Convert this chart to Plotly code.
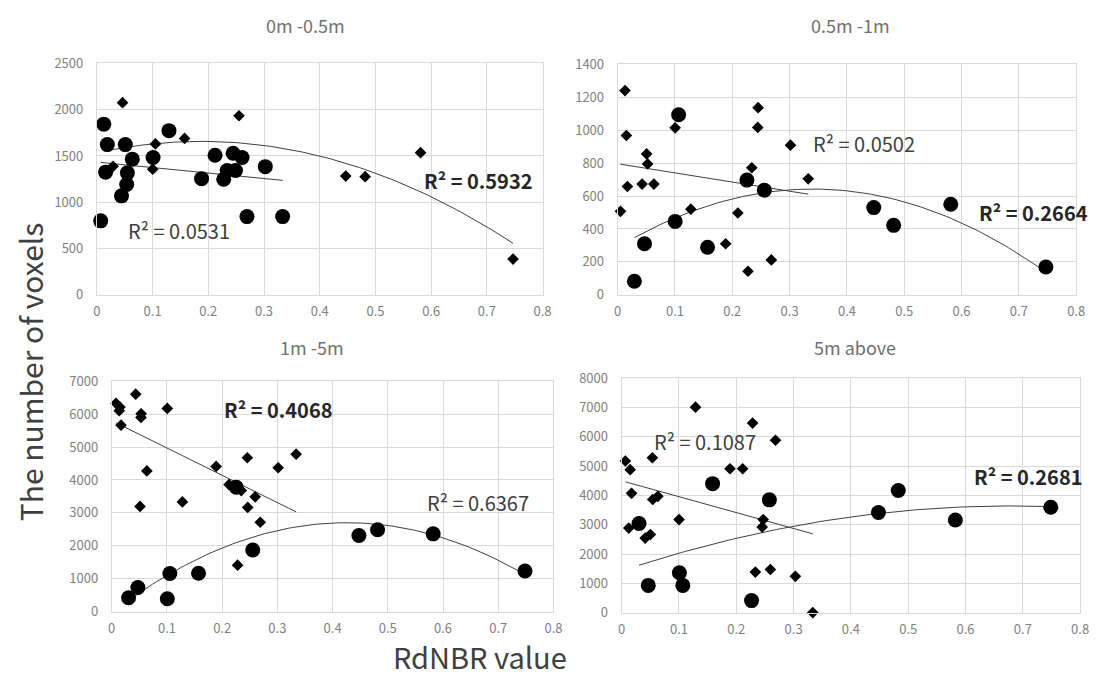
import numpy as np
import plotly.graph_objects as go

# ---------------- data ----------------
# Panel 1: 0m -0.5m
p1_circ_x = [0.0124, 0.0187, 0.0156, 0.0068, 0.051, 0.0635, 0.0547, 0.0535, 0.0442, 0.1008, 0.1294,
             0.1879, 0.2121, 0.2445, 0.2606, 0.2339, 0.2488, 0.2277, 0.2694, 0.3023, 0.3334]
p1_circ_y = [1844, 1623, 1325, 799, 1623, 1466, 1318, 1192, 1069, 1483, 1774,
             1255, 1508, 1529, 1483, 1343, 1343, 1248, 845, 1385, 845]
p1_dia_x = [0.029, 0.046, 0.1002, 0.1051, 0.1574, 0.2255, 0.2551, 0.4467, 0.4815, 0.581, 0.747]
p1_dia_y = [1388, 2076, 1357, 1630, 1690, 1260, 1935, 1283, 1276, 1536, 386]

# Panel 2: 0.5m -1m
p2_circ_x = [0.0292, 0.0468, 0.1003, 0.1064, 0.1568, 0.2255, 0.2559, 0.4468, 0.4815, 0.5812, 0.7471]
p2_circ_y = [82, 310, 446, 1094, 289, 697, 636, 530, 422, 550, 169]
p2_dia_x = [0.0128, 0.0152, 0.017, 0.0049, 0.0426, 0.0505, 0.0523, 0.0632, 0.1003, 0.1277,
            0.1884, 0.2097, 0.2274, 0.234, 0.245, 0.2444, 0.2681, 0.3015, 0.3325]
p2_dia_y = [1241, 968, 658, 507, 673, 856, 795, 673, 1015, 520,
            310, 497, 143, 772, 1137, 1017, 212, 909, 705]

# Panel 3: 1m -5m
p3_circ_x = [0.0305, 0.0474, 0.1007, 0.1053, 0.1572, 0.2255, 0.2554, 0.4477, 0.4815, 0.5822, 0.7485]
p3_circ_y = [422, 735, 392, 1157, 1167, 3780, 1873, 2314, 2490, 2363, 1235]
p3_dia_x = [0.0078, 0.0149, 0.0136, 0.0169, 0.0435, 0.0533, 0.0513, 0.053, 0.0637, 0.1007, 0.128,
            0.1891, 0.2125, 0.2346, 0.2456, 0.2463, 0.2599, 0.269, 0.3015, 0.334, 0.228]
p3_dia_y = [6333, 6216, 6108, 5667, 6608, 6010, 3196, 5902, 4275, 6176, 3333,
            4412, 3860, 3680, 4676, 3167, 3490, 2716, 4373, 4784, 1412]

# Panel 4: 5m above
p4_circ_x = [0.0304, 0.0465, 0.1008, 0.1068, 0.1587, 0.2267, 0.2578, 0.4481, 0.4827, 0.5823, 0.7488]
p4_circ_y = [3043, 929, 1361, 929, 4404, 409, 3851, 3419, 4172, 3165, 3596]
p4_dia_x = [0.0066, 0.0149, 0.0173, 0.0125, 0.0412, 0.0501, 0.0537, 0.0543, 0.0632, 0.1002, 0.1289,
            0.1891, 0.2112, 0.2285, 0.2333, 0.247, 0.2452, 0.2595, 0.2685, 0.3031, 0.3335]
p4_dia_y = [5178, 4880, 4072, 2888, 2545, 2667, 5289, 3862, 3972, 3176, 7015,
            4913, 4913, 6473, 1383, 3176, 2921, 1472, 5887, 1239, 0]

titles = ["0m -0.5m", "0.5m -1m", "1m -5m", "5m above"]
y_max = [2500, 1400, 7000, 8000]
y_step = [500, 200, 1000, 1000]
r2_normal = ["R² = 0.0531", "R² = 0.0502", "R² = 0.6367", "R² = 0.1087"]
r2_bold = ["R² = 0.5932", "R² = 0.2664", "R² = 0.4068", "R² = 0.2681"]

# ---------------- layout geometry ----------------
W, H = 1101, 677
boxes = [(94, 545, 55, 293), (621, 1085, 56, 293), (109, 556, 382, 619), (625, 1089, 379, 620)]
title_pos = [(305, 15), (857, 15), (312, 347), (861, 347)]
# label positions (data coords): normal label, bold label
normal_pos = [(0.147, 690), (0.429, 919), (0.6625, 3324), (0.1454, 5842)]
bold_pos = [(0.685, 1240), (0.726, 497), (0.3015, 6137), (0.7097, 4658)]

panels = [
    (p1_circ_x, p1_circ_y, p1_dia_x, p1_dia_y, "circ_lin"),
    (p2_circ_x, p2_circ_y, p2_dia_x, p2_dia_y, "dia_lin"),
    (p3_circ_x, p3_circ_y, p3_dia_x, p3_dia_y, "dia_lin"),
    (p4_circ_x, p4_circ_y, p4_dia_x, p4_dia_y, "dia_lin"),
]

FONT = "Noto Sans CJK JP"
GRAY = "#7f7f7f"
GRID = "#d9d9d9"

fig = go.Figure()
annotations = []
layout_axes = {}

for i, (cx, cy, dx, dy, mode) in enumerate(panels):
    n = "" if i == 0 else str(i + 1)
    xa, ya = "x" + n, "y" + n
    x0, x1, y0, y1 = boxes[i]

    if mode == "circ_lin":
        lin_x, lin_y, pol_x, pol_y = cx, cy, dx, dy
    else:
        lin_x, lin_y, pol_x, pol_y = dx, dy, cx, cy
    # linear trendline
    c1 = np.polyfit(lin_x, lin_y, 1)
    tx = np.linspace(min(lin_x), max(lin_x), 50)
    fig.add_trace(go.Scatter(x=tx, y=np.polyval(c1, tx), mode="lines", xaxis=xa, yaxis=ya,
                             line=dict(color="#404040", width=1), showlegend=False, hoverinfo="skip"))
    # polynomial (order 2) trendline
    c2 = np.polyfit(pol_x, pol_y, 2)
    tx2 = np.linspace(min(pol_x), max(pol_x), 100)
    fig.add_trace(go.Scatter(x=tx2, y=np.polyval(c2, tx2), mode="lines", xaxis=xa, yaxis=ya,
                             line=dict(color="#404040", width=1), showlegend=False, hoverinfo="skip"))

    fig.add_trace(go.Scatter(x=dx, y=dy, mode="markers", xaxis=xa, yaxis=ya,
                             marker=dict(symbol="diamond", size=9, color="black"),
                             showlegend=False, cliponaxis=False))
    fig.add_trace(go.Scatter(x=cx, y=cy, mode="markers", xaxis=xa, yaxis=ya,
                             marker=dict(symbol="circle", size=15, color="black"),
                             showlegend=False, cliponaxis=False))

    axis_common = dict(showgrid=True, gridcolor=GRID, gridwidth=1, zeroline=False,
                       showline=True, linecolor=GRID, linewidth=1, mirror=True,
                       ticks="", tickfont=dict(family=FONT, size=13, color=GRAY))
    layout_axes["xaxis" + n] = dict(domain=[x0 / W, x1 / W], anchor=ya, range=[0, 0.8], dtick=0.1,
                                    tick0=0, ticklabelstandoff=5, **axis_common)
    layout_axes["yaxis" + n] = dict(domain=[1 - y1 / H, 1 - y0 / H], anchor=xa, range=[0, y_max[i]],
                                    dtick=y_step[i], tick0=0, tickformat="d", ticklabelstandoff=10,
                                    **axis_common)

    # panel title
    annotations.append(dict(text=titles[i], xref="paper", yref="paper",
                            x=title_pos[i][0] / W, y=1 - title_pos[i][1] / H, showarrow=False,
                            font=dict(family=FONT, size=18, color="#707070"),
                            xanchor="center", yanchor="middle"))
    # R² labels
    annotations.append(dict(text=r2_normal[i], xref=xa, yref=ya, x=normal_pos[i][0], y=normal_pos[i][1],
                            showarrow=False, font=dict(family=FONT, size=20, color="#404040"),
                            xanchor="center", yanchor="middle"))
    annotations.append(dict(text="<b>" + r2_bold[i] + "</b>", xref=xa, yref=ya, x=bold_pos[i][0],
                            y=bold_pos[i][1], showarrow=False,
                            font=dict(family=FONT, size=20, color="#262626"),
                            xanchor="center", yanchor="middle"))

annotations.append(dict(text="The number of voxels", xref="paper", yref="paper", x=26 / W, y=1 - 372 / H,
                        textangle=-90, showarrow=False, font=dict(family=FONT, size=30, color="#404040"),
                        xanchor="center", yanchor="middle"))
annotations.append(dict(text="RdNBR value", xref="paper", yref="paper", x=482 / W, y=1 - 665 / H,
                        showarrow=False, borderpad=0, font=dict(family=FONT, size=29, color="#404040"),
                        xanchor="center", yanchor="middle"))

fig.update_layout(width=W, height=H, margin=dict(l=0, r=0, t=0, b=0),
                  paper_bgcolor="white", plot_bgcolor="white",
                  annotations=annotations, **layout_axes)

fig.write_html("out.html")
